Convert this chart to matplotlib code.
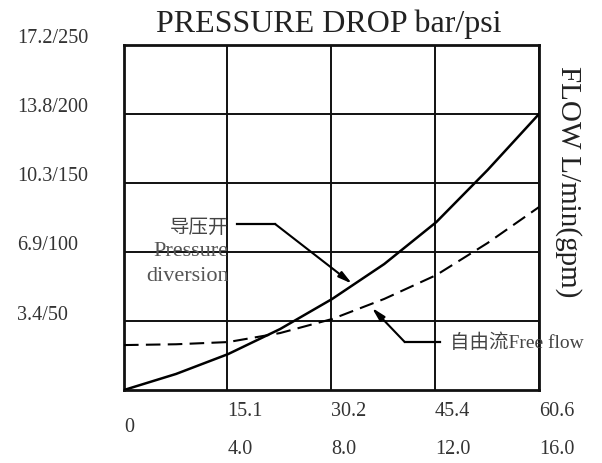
import matplotlib
matplotlib.use('Agg')
import matplotlib.pyplot as plt
import matplotlib.transforms as mtransforms

# Flow axis ticks (L/min on the first row, gpm on the second)
x_ticks = [0, 15.1, 30.2, 45.4, 60.6]
x_labels_lpm = ['15.1', '30.2', '45.4', '60.6']
x_labels_gpm = ['4.0', '8.0', '12.0', '16.0']

# Pressure axis ticks (bar / psi)
y_ticks = [3.44, 6.88, 10.32, 13.76, 17.2]
y_labels = ['3.4/50', '6.9/100', '10.3/150', '13.8/200', '17.2/250']

# Pressure diversion curve (solid)
div_flow = [0, 7.6, 15.2, 22.8, 30.4, 38.0, 45.6, 53.1, 60.6]
div_dp = [0, 0.80, 1.79, 3.04, 4.54, 6.28, 8.37, 10.97, 13.76]

# Free flow curve (dashed)
free_flow = [0, 7.6, 15.2, 22.8, 30.4, 38.0, 45.6, 53.1, 60.6]
free_dp = [2.24, 2.28, 2.39, 2.84, 3.54, 4.54, 5.73, 7.33, 9.12]

SERIF = ['Liberation Serif', 'Noto Sans CJK SC']
TXT = '#333333'

fig = plt.figure(figsize=(6.02, 4.63), dpi=100)
ax = fig.add_axes([124 / 602, 73 / 463, 415 / 602, 345 / 463])

ax.plot(div_flow, div_dp, color='black', lw=1.8, zorder=3)
ax.plot(free_flow, free_dp, color='black', lw=1.5, dashes=(7, 3.5), zorder=3)

ax.set_xlim(0, 60.6)
ax.set_ylim(0, 17.2)
ax.set_xticks(x_ticks)
ax.set_yticks(y_ticks)
ax.set_xticklabels([])
ax.set_yticklabels([])
ax.tick_params(length=0)
ax.grid(True, color='#111111', lw=1.4)
for sp in ax.spines.values():
    sp.set_linewidth(2)
    sp.set_color('#111111')

# y tick labels, left aligned at the figure edge, sitting just above the grid lines
ytrans = mtransforms.blended_transform_factory(fig.transFigure, ax.transData)
ytrans = mtransforms.offset_copy(ytrans, fig=fig, y=6, units='dots')
for v, lab in zip(y_ticks, y_labels):
    fig.text(17 / 602, v, lab, transform=ytrans, ha='left', va='center',
             fontsize=14.5, family=SERIF, color=TXT)

# x tick labels, two rows left aligned on the grid lines
xtrans = mtransforms.blended_transform_factory(ax.transData, ax.transAxes)
row1 = mtransforms.offset_copy(xtrans, fig=fig, y=-22, units='dots')
row2 = mtransforms.offset_copy(xtrans, fig=fig, y=-60, units='dots')
row0 = mtransforms.offset_copy(xtrans, fig=fig, y=-38, units='dots')
ax.text(0, 0, '0', transform=row0, ha='left', va='center', fontsize=14.5,
        family=SERIF, color=TXT)
for v, l1, l2 in zip(x_ticks[1:], x_labels_lpm, x_labels_gpm):
    ax.text(v, 0, l1, transform=row1, ha='left', va='center', fontsize=14.5,
            family=SERIF, color=TXT)
    ax.text(v, 0, l2, transform=row2, ha='left', va='center', fontsize=14.5,
            family=SERIF, color=TXT)

fig.text(329 / 602, 1 - 24 / 463, 'PRESSURE DROP bar/psi', ha='center', va='center',
         fontsize=23, family=SERIF, color='#222222')
fig.text(568 / 602, 1 - 182 / 463, 'FLOW L/min(gpm)', ha='center', va='center',
         rotation=270, fontsize=21, family=SERIF, color='#222222')

# annotations
ax.text(15.2, 8.08, '导压开', ha='right', va='center', fontsize=14,
        family=SERIF, color='#444444')
ax.text(15.3, 6.88, 'Pressure', ha='right', va='center', fontsize=16,
        family=SERIF, color='#555555')
ax.text(15.3, 5.68, 'diversion', ha='right', va='center', fontsize=16,
        family=SERIF, color='#555555')
ax.plot([16.5, 22.05], [8.28, 8.28], color='black', lw=1.6)
ax.annotate('', xy=(33.3, 5.30), xytext=(22.05, 8.28),
            arrowprops=dict(arrowstyle='-|>,head_length=0.8,head_width=0.2',
                            color='black', lw=1.5, shrinkA=0, shrinkB=0))

ax.plot([41.0, 46.1], [2.39, 2.39], color='black', lw=1.6, clip_on=False)
ax.annotate('', xy=(36.2, 4.10), xytext=(41.0, 2.39),
            arrowprops=dict(arrowstyle='-|>,head_length=0.8,head_width=0.2',
                            color='black', lw=1.5, shrinkA=0, shrinkB=0))
ax.text(47.6, 2.36, '自由流Free flow', ha='left', va='center', fontsize=14,
        family=SERIF, color='#444444', clip_on=False)

fig.savefig('out.png', dpi=100)
